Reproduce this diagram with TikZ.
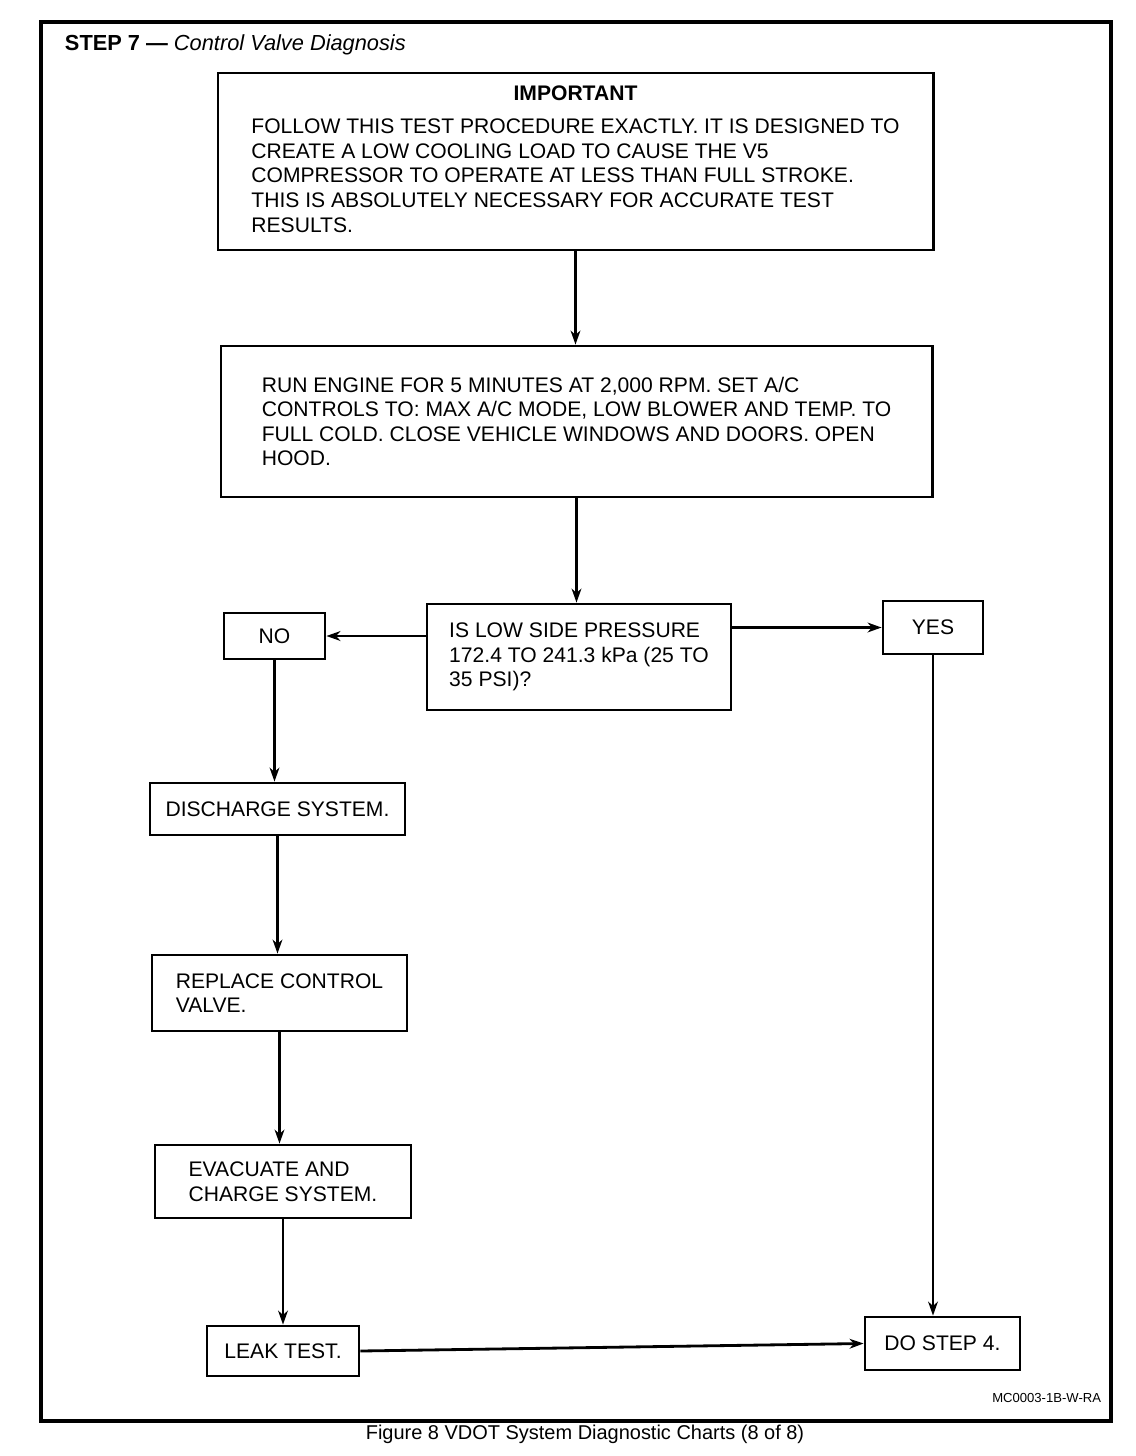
\documentclass[tikz,border=0pt]{standalone}
\usepackage{fontspec}
\setmainfont{Liberation Sans}
\usepackage{tikz}
\usetikzlibrary{arrows.meta}

\begin{document}
\begin{tikzpicture}[x=0.025cm, y=-0.025cm,
		box/.style={draw, line width=2pt, align=left, font=\fontsize{15}{17.5}\selectfont},
		flow/.style={line width=2pt, -{Stealth[length=10pt, width=7pt]}}]
	\useasboundingbox (0,0) rectangle (1136,1456);
	\draw[line width=2.2pt] (41,22) rectangle (1111,1421);
	\node[anchor=west, font=\fontsize{15.5}{18}\selectfont] (title) at (60,45) {\textbf{STEP 7 ---} \textit{Control Valve Diagnosis}};
	% boxes
	\node[box, align=none, minimum width=17.875cm, minimum height=4.425cm] (imp) at (575.5,161.5) {\begin{tabular}{@{}l@{}}
		\multicolumn{1}{@{}c@{}}{\textbf{IMPORTANT}}\\[6pt]
		FOLLOW THIS TEST PROCEDURE EXACTLY. IT IS DESIGNED TO\\ CREATE A LOW COOLING LOAD TO CAUSE THE V5\\ COMPRESSOR TO OPERATE AT LESS THAN FULL STROKE.\\ THIS IS ABSOLUTELY NECESSARY FOR ACCURATE TEST\\ RESULTS.
		\end{tabular}};
	\node[box, minimum width=17.775cm, minimum height=3.775cm] (run) at (576.5,421.5) {RUN ENGINE FOR 5 MINUTES AT 2,000 RPM. SET A/C\\ CONTROLS TO: MAX A/C MODE, LOW BLOWER AND TEMP. TO\\ FULL COLD. CLOSE VEHICLE WINDOWS AND DOORS. OPEN\\ HOOD.};
	\node[box, minimum width=7.6cm, minimum height=2.65cm] (ask) at (579,657) {IS LOW SIDE PRESSURE\\ 172.4 TO 241.3 kPa (25 TO\\ 35 PSI)?};
	\node[box, minimum width=2.525cm, minimum height=1.15cm] (no) at (274.5,636) {NO};
	\node[box, minimum width=2.5cm, minimum height=1.325cm] (yes) at (933,627.5) {YES};
	\node[box, minimum width=6.375cm, minimum height=1.3cm] (dis) at (277.5,809) {DISCHARGE SYSTEM.};
	\node[box, minimum width=6.375cm, minimum height=1.9cm] (rep) at (279.5,993) {REPLACE CONTROL\\ VALVE.};
	\node[box, minimum width=6.4cm, minimum height=1.825cm] (eva) at (283,1181.5) {EVACUATE AND\\ CHARGE SYSTEM.};
	\node[box, minimum width=3.8cm, minimum height=1.25cm] (leak) at (283,1351) {LEAK TEST.};
	\node[box, minimum width=3.875cm, minimum height=1.325cm] (step4) at (942.5,1343.5) {DO STEP 4.};
	% connectors
	\draw[flow] (imp.south) -- (imp.south |- run.north);
	\draw[flow] (run.south) -- (run.south |- ask.north);
	\draw[flow] (ask.west |- no) -- (no.east);
	\draw[flow] (ask.east |- yes) -- (yes.west);
	\draw[flow] (no.south) -- (no.south |- dis.north);
	\draw[flow] (dis.south) -- (dis.south |- rep.north);
	\draw[flow] (rep.south) -- (rep.south |- eva.north);
	\draw[flow] (eva.south) -- (eva.south |- leak.north);
	\draw[flow] (leak.east) -- (step4.west);
	\draw[flow] (yes.south) -- (yes.south |- step4.north);
	% labels
	\node[anchor=east, font=\fontsize{9.3}{11}\selectfont] (code) at (1106,1398) {MC0003-1B-W-RA};
	\node[font=\fontsize{14.2}{17}\selectfont] (caption) at (585,1434) {Figure 8 VDOT System Diagnostic Charts (8 of 8)};
\end{tikzpicture}
\end{document}
